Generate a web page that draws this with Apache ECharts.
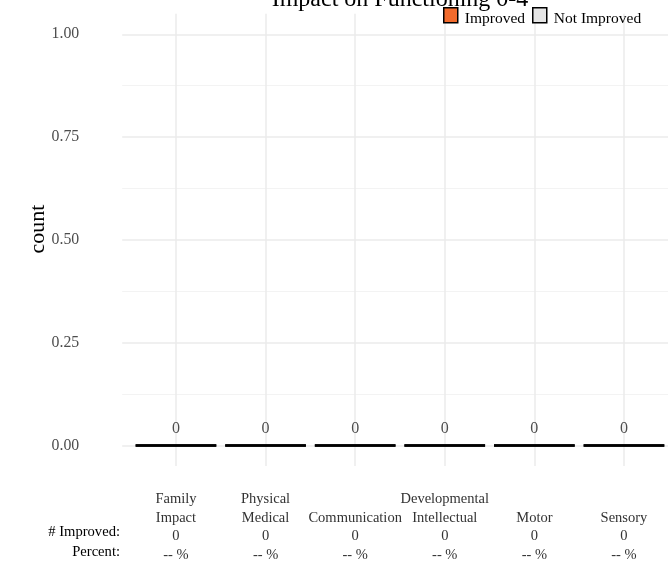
<!DOCTYPE html>
<html><head><meta charset="utf-8">
<script src="https://cdn.jsdelivr.net/npm/echarts@6/dist/echarts.min.js"></script>
<style>html,body{margin:0;padding:0;background:#fff}#c{width:668px;height:564px}</style>
</head><body><div id="c"></div>
<script>
const titleText = 'Impact on Functioning 0-4';
const yAxisTitle = 'count';
const categories = ['Family\nImpact', 'Physical\nMedical', 'Communication', 'Developmental\nIntellectual', 'Motor', 'Sensory'];
const improved = [0, 0, 0, 0, 0, 0];
const notImproved = [0, 0, 0, 0, 0, 0];
const improvedCounts = ['0', '0', '0', '0', '0', '0'];
const percentLabels = ['-- %', '-- %', '-- %', '-- %', '-- %', '-- %'];
const rowHeaders = ['# Improved:', 'Percent:'];
const yTicks = [0, 0.25, 0.5, 0.75, 1];
const yMinorTicks = [0.125, 0.375, 0.625, 0.875];
const seriesNames = ['Improved', 'Not Improved'];
const seriesColors = ['#F26B2D', '#E5E5E5'];

const FONT = 'Liberation Serif';
const chart = echarts.init(document.getElementById('c'), null, {renderer: 'canvas'});
const xIdx = categories.map((_, i) => i);

function barSeries(name, values, base, color) {
  return {
    type: 'custom', name: name,
    itemStyle: {color: color},
    encode: {x: 0, y: [1, 2]},
    data: values.map((v, i) => [i, base[i], base[i] + v]),
    renderItem: function (params, api) {
      const i = api.value(0);
      const p0 = api.coord([i - 0.45, api.value(1)]);
      const p1 = api.coord([i + 0.45, api.value(2)]);
      return {type: 'rect',
        shape: {x: p0[0], y: p1[1], width: p1[0] - p0[0], height: p0[1] - p1[1]},
        style: {fill: color, stroke: '#000', lineWidth: 2.6}};
    }
  };
}
const totals = improved.map((v, i) => v + notImproved[i]);

chart.setOption({
  animation: false,
  legend: {
    data: seriesNames, left: 443, top: 7, itemWidth: 14, itemHeight: 15, itemGap: 7,
    icon: 'rect', selectedMode: false, padding: 0,
    itemStyle: {borderColor: '#000', borderWidth: 1.5},
    formatter: '{t|{name}}',
    textStyle: {fontFamily: FONT, fontSize: 15.5, color: '#000',
      rich: {t: {fontFamily: FONT, fontSize: 15.5, color: '#000', padding: [7, 0, 0, 2]}}}
  },
  grid: {left: 122.2, top: 13.7, right: 0, height: 452.9},
  xAxis: {
    type: 'value', min: -0.6, max: 5.4915,
    axisLine: {show: false, onZero: false},
    axisTick: {show: false, customValues: xIdx},
    splitLine: {show: true, lineStyle: {color: '#EBEBEB', width: 1.5}},
    axisLabel: {
      customValues: xIdx, margin: 98, verticalAlign: 'bottom',
      fontFamily: FONT, fontSize: 14.5, lineHeight: 18.5, color: '#333',
      formatter: function (v) {
        const i = Math.round(v);
        return categories[i] + '\n' + improvedCounts[i] + '\n' + percentLabels[i];
      }
    }
  },
  yAxis: [{
    type: 'value', min: -0.05, max: 1.05,
    axisLine: {show: false},
    axisTick: {show: false, customValues: yTicks},
    splitLine: {show: true, lineStyle: {color: '#EBEBEB', width: 1.5}},
    axisLabel: {customValues: yTicks, margin: 43, fontFamily: FONT, fontSize: 15.8, color: '#4D4D4D',
      padding: [8, 0, 0, 0],
      formatter: function (v) { return v.toFixed(2); }}
  }, {
    type: 'value', min: -0.05, max: 1.05, position: 'left',
    axisLine: {show: false}, axisLabel: {show: false},
    axisTick: {show: false, customValues: yMinorTicks},
    splitLine: {show: true, lineStyle: {color: '#F3F3F3', width: 1}}
  }],
  graphic: [
    {type: 'text', x: 400, y: -0.5,
      style: {text: titleText, fontFamily: FONT, fontSize: 24, fill: '#000', align: 'center', verticalAlign: 'middle'}},
    {type: 'text', x: 38, y: 229, rotation: Math.PI / 2,
      style: {text: yAxisTitle, fontFamily: FONT, fontSize: 22, fill: '#000', align: 'center', verticalAlign: 'middle'}},
    {type: 'text', x: 120, y: 532,
      style: {text: rowHeaders[0], fontFamily: FONT, fontSize: 14.6, fill: '#000', align: 'right', verticalAlign: 'middle'}},
    {type: 'text', x: 120, y: 552,
      style: {text: rowHeaders[1], fontFamily: FONT, fontSize: 14.6, fill: '#000', align: 'right', verticalAlign: 'middle'}}
  ],
  series: [
    barSeries(seriesNames[1], notImproved, improved, seriesColors[1]),
    barSeries(seriesNames[0], improved, improved.map(() => 0), seriesColors[0]),
    {
      type: 'custom', name: 'labels', silent: true,
      data: totals.map((v, i) => [i, v]),
      encode: {x: 0, y: 1},
      renderItem: function (params, api) {
        const p = api.coord([api.value(0), api.value(1)]);
        return {type: 'text', x: p[0], y: p[1] - 17,
          style: {text: String(api.value(1)), fontFamily: FONT, fontSize: 16, fill: '#4D4D4D', align: 'center', verticalAlign: 'middle'}};
      }
    }
  ]
});
</script></body></html>
